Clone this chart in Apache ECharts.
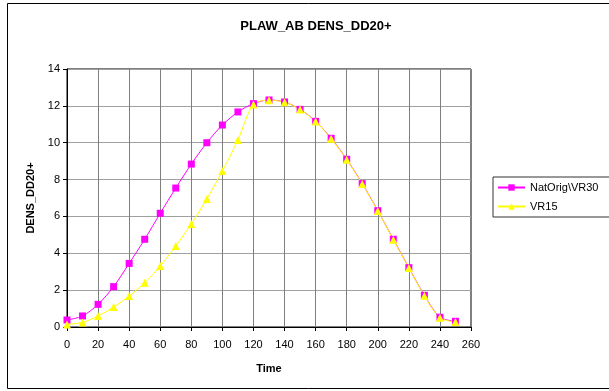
<!DOCTYPE html>
<html>
<head>
<meta charset="utf-8">
<script src="https://cdn.jsdelivr.net/npm/echarts@6/dist/echarts.min.js"></script>
<style>
  html, body { margin: 0; padding: 0; background: #fff; }
  #chart { width: 609px; height: 391px; }
</style>
</head>
<body>
<div id="chart"></div>
<script>
// time steps on the x axis
const times = [0, 10, 20, 30, 40, 50, 60, 70, 80, 90, 100, 110, 120, 130, 140, 150, 160, 170, 180, 190, 200, 210, 220, 230, 240, 250];
// NatOrig\VR30 (magenta squares)
const natOrig = [0.38, 0.6, 1.23, 2.19, 3.45, 4.76, 6.17, 7.54, 8.84, 10.0, 10.96, 11.67, 12.12, 12.32, 12.21, 11.81, 11.16, 10.24, 9.1, 7.78, 6.31, 4.76, 3.22, 1.72, 0.53, 0.31];
// VR15 (yellow triangles)
const vr15 = [0.14, 0.25, 0.6, 1.08, 1.68, 2.4, 3.31, 4.4, 5.59, 6.95, 8.47, 10.15, 12.08, 12.3, 12.2, 11.8, 11.15, 10.22, 9.08, 7.76, 6.3, 4.74, 3.2, 1.7, 0.5, 0.27];

const font = 'Liberation Sans, Arial, sans-serif';
const chart = echarts.init(document.getElementById('chart'));

const option = {
  backgroundColor: '#fff',
  animation: false,
  title: {
    text: 'PLAW_AB DENS_DD20+',
    left: 311,
    textAlign: 'center',
    top: 15,
    textStyle: { fontFamily: font, fontSize: 13, fontWeight: 'bold', color: '#000' }
  },
  graphic: [{
    type: 'rect',
    shape: { x: 7.5, y: 3.5, width: 700, height: 385 },
    style: { fill: 'none', stroke: '#000', lineWidth: 1 },
    silent: true
  }],
  legend: {
    left: 493,
    top: 177,
    orient: 'vertical',
    itemWidth: 27,
    itemHeight: 8,
    itemGap: 8,
    padding: [5, 20, 5, 4],
    borderColor: '#333',
    borderWidth: 1,
    textStyle: { fontFamily: font, fontSize: 11, color: '#000' },
    data: ['NatOrig\\VR30', 'VR15']
  },
  grid: {
    left: 67, top: 69, width: 404, height: 258,
    show: true, borderColor: '#000', borderWidth: 1
  },
  xAxis: {
    type: 'value',
    min: 0, max: 260, interval: 20,
    name: 'Time',
    nameLocation: 'middle',
    nameGap: 36,
    nameTextStyle: { fontFamily: font, fontSize: 11, fontWeight: 'bold', color: '#000' },
    axisLine: { lineStyle: { color: '#000' } },
    axisTick: { show: true, length: 4, lineStyle: { color: '#000' } },
    axisLabel: { fontFamily: font, fontSize: 11, color: '#000', margin: 12 },
    splitLine: { show: true, lineStyle: { color: '#808080', width: 1 } }
  },
  yAxis: {
    type: 'value',
    min: 0, max: 14, interval: 2,
    name: 'DENS_DD20+',
    nameLocation: 'middle',
    nameGap: 31,
    nameTextStyle: { fontFamily: font, fontSize: 11, fontWeight: 'bold', color: '#000' },
    axisLine: { show: true, lineStyle: { color: '#000' } },
    axisTick: { show: true, length: 4, lineStyle: { color: '#000' } },
    axisLabel: { fontFamily: font, fontSize: 11, color: '#000', margin: 7 },
    splitLine: { show: true, lineStyle: { color: '#a0a0a0', width: 1 } }
  },
  series: [
    {
      name: 'NatOrig\\VR30',
      type: 'line',
      smooth: 0.3,
      symbol: 'rect',
      symbolSize: 7,
      color: '#ff00ff',
      lineStyle: { width: 1, color: '#ff00ff' },
      itemStyle: { color: '#ff00ff' },
      data: times.map((t, i) => [t, natOrig[i]])
    },
    {
      name: 'VR15',
      type: 'line',
      smooth: 0.3,
      symbol: 'triangle',
      symbolSize: 8,
      color: '#ffff00',
      lineStyle: { width: 1, color: '#ffff00' },
      itemStyle: { color: '#ffff00' },
      data: times.map((t, i) => [t, vr15[i]])
    }
  ]
};

chart.setOption(option);
</script>
</body>
</html>
